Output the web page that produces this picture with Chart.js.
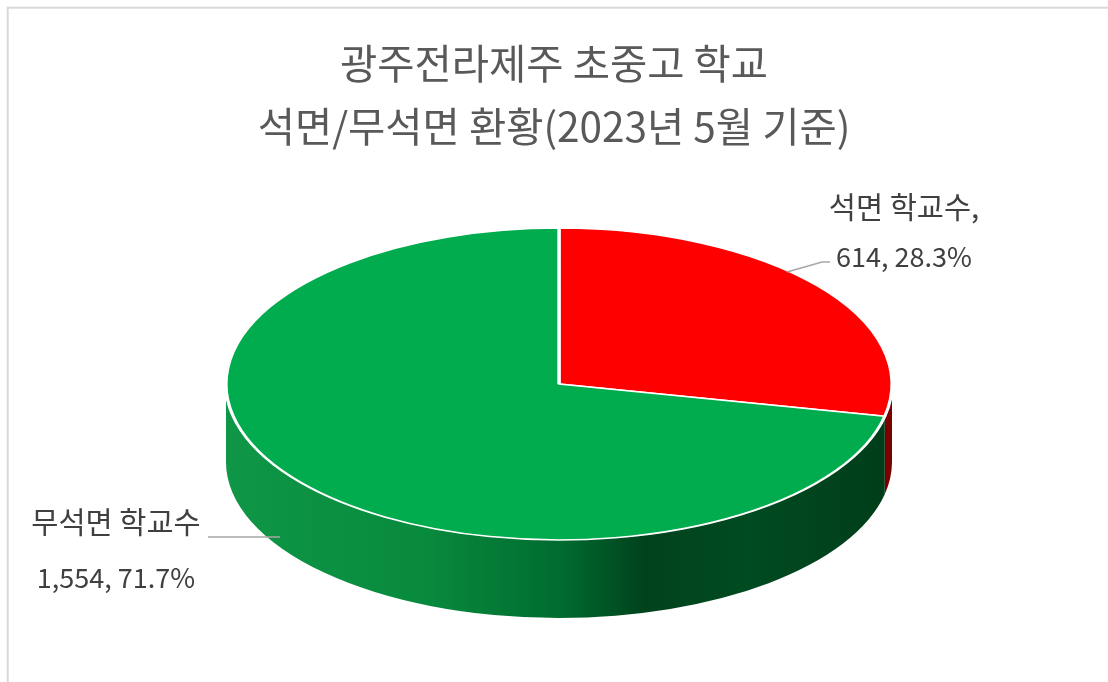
<!DOCTYPE html>
<html>
<head>
<meta charset="utf-8">
<script src="https://cdn.jsdelivr.net/npm/chart.js@4.4.1/dist/chart.umd.min.js"></script>
<style>
html,body{margin:0;padding:0;background:#fff;}
#wrap{width:1108px;height:682px;position:relative;}
</style>
</head>
<body>
<div id="wrap"><canvas id="c"></canvas></div>
<script>
// ---- data ----
const categories = ['석면 학교수', '무석면 학교수'];
const schoolCounts = [614, 1554];
const sliceColors = ['#FF0000', '#00AC4E'];
const titleLines = ['광주전라제주 초중고 학교', '석면/무석면 환황(2023년 5월 기준)'];

const total = schoolCounts.reduce((a, b) => a + b, 0);
const fmt = v => v.toLocaleString('en-US');
const pct = v => (v / total * 100).toFixed(1) + '%';

const FONT = "'Noto Sans CJK KR', 'Noto Sans', sans-serif";

// frame plugin
const framePlugin = {
  id: 'frame',
  beforeDraw(chart) {
    const ctx = chart.ctx;
    ctx.save();
    ctx.strokeStyle = '#d9d9d9';
    ctx.lineWidth = 2;
    ctx.strokeRect(7.7, 7.7, 1400, 1000);
    ctx.restore();
  }
};

// 3D pie emulation plugin
const pie3d = {
  id: 'pie3d',
  beforeDatasetsDraw(chart, args, opts) {
    const meta = chart.getDatasetMeta(0);
    const ctx = chart.ctx;
    const { cx, cy, rx, ry, depth } = opts;
    meta.data.forEach((arc, i) => {
      const p = arc.getProps(['startAngle', 'endAngle'], true);
      const a0 = Math.max(p.startAngle, 0);
      const a1 = Math.min(p.endAngle, Math.PI);
      if (a1 <= a0) return;
      ctx.save();
      ctx.beginPath();
      ctx.ellipse(cx, cy, rx, ry, 0, a0, a1, false);
      ctx.ellipse(cx, cy + depth, rx, ry, 0, a1, a0, true);
      ctx.closePath();
      const g = ctx.createLinearGradient(cx - rx, 0, cx + rx, 0);
      const stops = opts.sideStops[i];
      stops.forEach(s => g.addColorStop(s[0], s[1]));
      ctx.fillStyle = g;
      ctx.fill();
      ctx.restore();
    });
    const a = meta.data[0];
    const R = a.outerRadius;
    ctx.save();
    ctx.translate(cx, cy);
    ctx.scale(rx / R, ry / R);
    ctx.translate(-a.x, -a.y);
  },
  afterDatasetsDraw(chart) {
    chart.ctx.restore();
  }
};

// data labels plugin
const labelPlugin = {
  id: 'pieLabels',
  afterDraw(chart, args, opts) {
    const ctx = chart.ctx;
    ctx.save();
    ctx.fillStyle = opts.color;
    ctx.textAlign = 'center';
    ctx.textBaseline = 'middle';
    opts.items.forEach((it, i) => {
      const v = schoolCounts[i];
      const lines = [categories[i] + it.suffix, fmt(v) + ', ' + pct(v)];
      lines.forEach((t, k) => {
        ctx.font = opts.sizes[k] + 'px ' + FONT;
        ctx.fillText(t, it.x, it.y + k * it.gap);
      });
      ctx.strokeStyle = opts.lineColor;
      ctx.lineWidth = 1.5;
      ctx.beginPath();
      it.leader.forEach((pt, k) => k ? ctx.lineTo(pt[0], pt[1]) : ctx.moveTo(pt[0], pt[1]));
      ctx.stroke();
    });
    ctx.restore();
  }
};

new Chart(document.getElementById('c'), {
  type: 'pie',
  data: {
    labels: categories,
    datasets: [{
      data: schoolCounts,
      backgroundColor: sliceColors,
      borderColor: '#ffffff',
      borderWidth: 2.5
    }]
  },
  options: {
    responsive: true,
    maintainAspectRatio: false,
    animation: false,
    layout: { padding: 8 },
    plugins: {
      legend: { display: false },
      tooltip: { enabled: false },
      title: {
        display: true,
        text: titleLines,
        color: '#595959',
        font: { family: FONT, size: 40.5, weight: 'normal', lineHeight: 1.556 },
        padding: { top: 24.5, bottom: 10 }
      },
      pie3d: {
        cx: 559, cy: 384, rx: 333, ry: 156, depth: 78,
        sideStops: [
          [[0, '#a00000'], [1, '#7a0000']],
          [[0, '#0f9646'], [0.3, '#088a3d'], [0.5, '#006c2f'], [0.63, '#00421d'], [0.78, '#004b21'], [1, '#003d1a']]
        ]
      },
      pieLabels: {
        sizes: [29.5, 27],
        color: '#404040',
        lineColor: '#a6a6a6',
        items: [
          { x: 904, y: 207, gap: 50, suffix: ',', leader: [[787, 272], [822, 262], [830, 262]] },
          { x: 116, y: 522, gap: 56, suffix: '', leader: [[208, 537], [280, 537]] }
        ]
      }
    }
  },
  plugins: [framePlugin, pie3d, labelPlugin]
});
</script>
</body>
</html>
